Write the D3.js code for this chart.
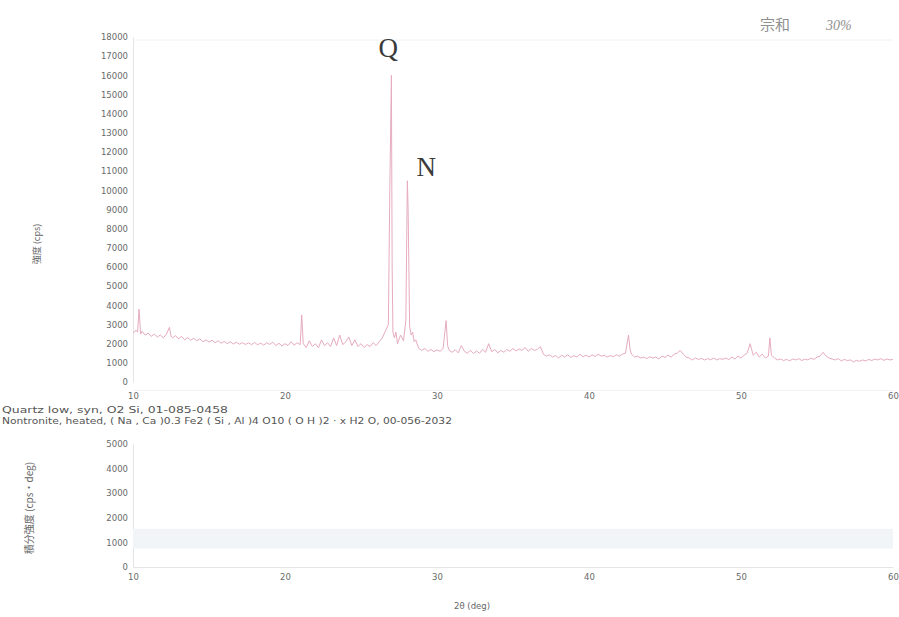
<!DOCTYPE html>
<html><head><meta charset="utf-8">
<script src="https://cdn.jsdelivr.net/npm/d3@7"></script>
<style>body{margin:0;background:#fff}svg{display:block}</style>
</head><body>
<svg id="c" width="899" height="617"></svg>
<script>
// ---- data ----
const xTicks = [10, 20, 30, 40, 50, 60];
const yTicksTop = d3.range(0, 18001, 1000);
const yTicksBottom = [0, 1000, 2000, 3000, 4000, 5000];
const phases = [
  "Quartz low, syn, O2 Si, 01-085-0458",
  "Nontronite, heated, ( Na , Ca )0.3 Fe2 ( Si , Al )4 O10 ( O H )2 · x H2 O, 00-056-2032"
];
const peakLabels = [{t: "Q", x: 26.8, y: 16950}, {t: "N", x: 29.3, y: 10750}];
const pattern = [
[10.0,2550],[10.2,2700],[10.3,2600],[10.4,3800],[10.5,2500],[10.6,2650],[10.8,2450],[11.0,2550],[11.2,2380],[11.4,2500],
[11.6,2350],[11.8,2450],[12.0,2300],[12.2,2500],[12.4,2850],[12.5,2400],[12.6,2300],[12.8,2420],[13.0,2250],[13.2,2380],
[13.4,2200],[13.6,2320],[13.8,2180],[14.0,2280],[14.2,2150],[14.4,2250],[14.6,2100],[14.8,2200],[15.0,2080],[15.2,2180],
[15.4,2050],[15.6,2150],[15.8,2020],[16.0,2120],[16.2,2000],[16.4,2100],[16.6,1980],[16.8,2080],[17.0,1970],[17.2,2050],
[17.4,1960],[17.6,2040],[17.8,1950],[18.0,2060],[18.2,1940],[18.4,2030],[18.6,1920],[18.8,2050],[19.0,1960],[19.2,2080],
[19.4,1900],[19.6,2020],[19.8,1880],[20.0,2000],[20.2,1900],[20.4,2100],[20.6,1920],[20.8,2050],[21.0,1950],[21.1,3500],
[21.2,2000],[21.4,1800],[21.6,2150],[21.8,1850],[22.0,2000],[22.2,1780],[22.4,2200],[22.6,1900],[22.8,2050],[23.0,1850],
[23.2,2300],[23.4,1900],[23.6,2450],[23.8,1950],[24.0,2100],[24.2,2350],[24.4,1900],[24.6,2200],[24.8,1850],[25.0,2000],
[25.2,1800],[25.4,1950],[25.6,1850],[25.8,2050],[26.0,1900],[26.2,2100],[26.4,2300],[26.6,2650],[26.8,3000],[26.9,10300],
[27.0,16000],[27.05,6000],[27.1,2600],[27.2,2300],[27.3,2600],[27.4,2000],[27.6,2450],[27.8,2150],[27.95,3200],[28.05,10500],
[28.1,9000],[28.2,2900],[28.3,2450],[28.4,2600],[28.5,2100],[28.6,2200],[28.8,1750],[29.0,1650],[29.2,1750],[29.4,1600],
[29.6,1700],[29.8,1580],[30.0,1680],[30.2,1600],[30.4,1750],[30.6,3200],[30.7,1900],[30.8,1650],[31.0,1550],[31.2,1680],
[31.4,1520],[31.6,1900],[31.8,1600],[32.0,1500],[32.2,1650],[32.4,1480],[32.6,1620],[32.8,1500],[33.0,1700],[33.2,1550],
[33.4,2000],[33.6,1580],[33.8,1700],[34.0,1520],[34.2,1650],[34.4,1550],[34.6,1700],[34.8,1600],[35.0,1750],[35.2,1620],
[35.4,1720],[35.6,1650],[35.8,1800],[36.0,1600],[36.2,1750],[36.4,1650],[36.6,1700],[36.8,1850],[37.0,1450],[37.2,1350],
[37.4,1420],[37.6,1300],[37.8,1380],[38.0,1250],[38.2,1400],[38.4,1300],[38.6,1420],[38.8,1280],[39.0,1380],[39.2,1300],
[39.4,1450],[39.6,1320],[39.8,1400],[40.0,1300],[40.2,1420],[40.4,1330],[40.6,1450],[40.8,1350],[41.0,1400],[41.2,1300],
[41.4,1380],[41.6,1320],[41.8,1420],[42.0,1350],[42.2,1450],[42.4,1500],[42.6,2450],[42.7,1700],[42.8,1450],[43.0,1300],
[43.2,1350],[43.4,1250],[43.6,1300],[43.8,1220],[44.0,1320],[44.2,1250],[44.4,1300],[44.6,1200],[44.8,1350],[45.0,1280],
[45.2,1400],[45.4,1300],[45.6,1450],[45.8,1500],[46.0,1650],[46.2,1450],[46.4,1300],[46.6,1250],[46.8,1150],[47.0,1250],
[47.2,1180],[47.4,1230],[47.6,1150],[47.8,1220],[48.0,1160],[48.2,1250],[48.4,1150],[48.6,1220],[48.8,1180],[49.0,1250],
[49.2,1170],[49.4,1300],[49.6,1200],[49.8,1350],[50.0,1250],[50.2,1400],[50.4,1500],[50.6,2000],[50.8,1400],[51.0,1550],
[51.2,1300],[51.4,1450],[51.6,1250],[51.8,1350],[51.9,2300],[52.0,1400],[52.2,1250],[52.4,1150],[52.6,1200],[52.8,1120],
[53.0,1180],[53.2,1100],[53.4,1200],[53.6,1150],[53.8,1220],[54.0,1120],[54.2,1200],[54.4,1150],[54.6,1250],[54.8,1180],
[55.0,1300],[55.2,1350],[55.4,1550],[55.6,1350],[55.8,1250],[56.0,1200],[56.2,1150],[56.4,1220],[56.6,1100],[56.8,1180],
[57.0,1120],[57.2,1150],[57.4,1050],[57.6,1130],[57.8,1080],[58.0,1150],[58.2,1100],[58.4,1180],[58.6,1120],[58.8,1200],
[59.0,1150],[59.2,1220],[59.4,1130],[59.6,1200],[59.8,1150],[60.0,1180]
];
const scanBand = [750, 1550]; // faint band in lower panel (cps·deg)

// ---- layout ----
const svg = d3.select("#c");
const font = "'DejaVu Sans', Arial, sans-serif";
const x = d3.scaleLinear().domain([10, 60]).range([133, 893]);
const yTop = d3.scaleLinear().domain([0, 18000]).range([382, 37]);
const yBot = d3.scaleLinear().domain([0, 5000]).range([567, 444]);
const tickCol = "#6a6a6a";

// top panel axes
const gyT = svg.append("g").attr("transform", `translate(${x(10)},0)`)
  .call(d3.axisLeft(yTop).tickValues(yTicksTop).tickSize(0).tickPadding(5).tickFormat(d3.format("d")));
const gxT = svg.append("g").attr("transform", `translate(0,${yTop(0) + 8})`)
  .call(d3.axisBottom(x).tickValues(xTicks).tickSize(0).tickPadding(3));
// bottom panel axes
const gyB = svg.append("g").attr("transform", `translate(${x(10)},0)`)
  .call(d3.axisLeft(yBot).tickValues(yTicksBottom).tickSize(0).tickPadding(5).tickFormat(d3.format("d")));
const gxB = svg.append("g").attr("transform", `translate(0,${yBot(0)})`)
  .call(d3.axisBottom(x).tickValues(xTicks).tickSize(0).tickPadding(7));
[gyT, gxT, gyB, gxB].forEach(g => {
  g.selectAll("text").attr("fill", tickCol).attr("font-size", 8.5).attr("font-family", font);
  g.select(".domain").attr("stroke", "#e4e4e4");
});
gxT.select(".domain").attr("stroke", "#f3f3f3");

// faint top border line
svg.append("line").attr("x1", x(10)).attr("x2", x(60)).attr("y1", yTop(18000) + 3).attr("y2", yTop(18000) + 3)
  .attr("stroke", "#f2f2f2");

// faint scan band in lower panel
svg.append("rect").attr("x", x(10)).attr("width", x(60) - x(10))
  .attr("y", yBot(scanBand[1])).attr("height", yBot(scanBand[0]) - yBot(scanBand[1]))
  .attr("fill", "#f1f5f8");

// pattern line
const line = d3.line().x(d => x(d[0])).y(d => yTop(d[1]));
svg.append("path").datum(pattern).attr("d", line)
  .attr("fill", "none").attr("stroke", "#e6abc0").attr("stroke-width", 1);

// peak labels
svg.selectAll(".pk").data(peakLabels).enter().append("text")
  .attr("x", d => x(d.x)).attr("y", d => yTop(d.y))
  .attr("text-anchor", "middle").attr("font-family", "'Liberation Serif', 'DejaVu Serif', serif")
  .attr("font-size", 27).attr("fill", "#3a3a3a").text(d => d.t);

// phase list
const phaseWidths = [226, 450];
svg.selectAll(".ph").data(phases).enter().append("text")
  .attr("x", 2).attr("y", (d, i) => 413 + i * 11)
  .attr("textLength", (d, i) => phaseWidths[i]).attr("lengthAdjust", "spacingAndGlyphs")
  .attr("font-family", font).attr("font-size", 9).attr("fill", "#555").text(d => d);

// axis titles
svg.append("text").attr("transform", "translate(40,244) rotate(-90)").attr("text-anchor", "middle")
  .attr("font-family", "'Noto Sans CJK JP', sans-serif").attr("font-size", 9).attr("fill", "#666").text("強度 (cps)");
svg.append("text").attr("transform", "translate(33,508) rotate(-90)").attr("text-anchor", "middle")
  .attr("font-family", "'Noto Sans CJK JP', sans-serif").attr("font-size", 10).attr("fill", "#666").text("積分強度 (cps・deg)");
svg.append("text").attr("x", 472).attr("y", 609).attr("text-anchor", "middle")
  .attr("font-family", font).attr("font-size", 8.5).attr("fill", "#666").text("2θ (deg)");

// handwritten note
svg.append("text").attr("x", 760).attr("y", 30).attr("font-family", "'Noto Sans CJK JP', sans-serif")
  .attr("font-size", 15).attr("fill", "#8f8f8f").text("宗和");
svg.append("text").attr("x", 826).attr("y", 30).attr("font-family", "'Liberation Serif', serif").attr("font-style", "italic")
  .attr("font-size", 14).attr("fill", "#8f8f8f").text("30%");
</script>
</body></html>
